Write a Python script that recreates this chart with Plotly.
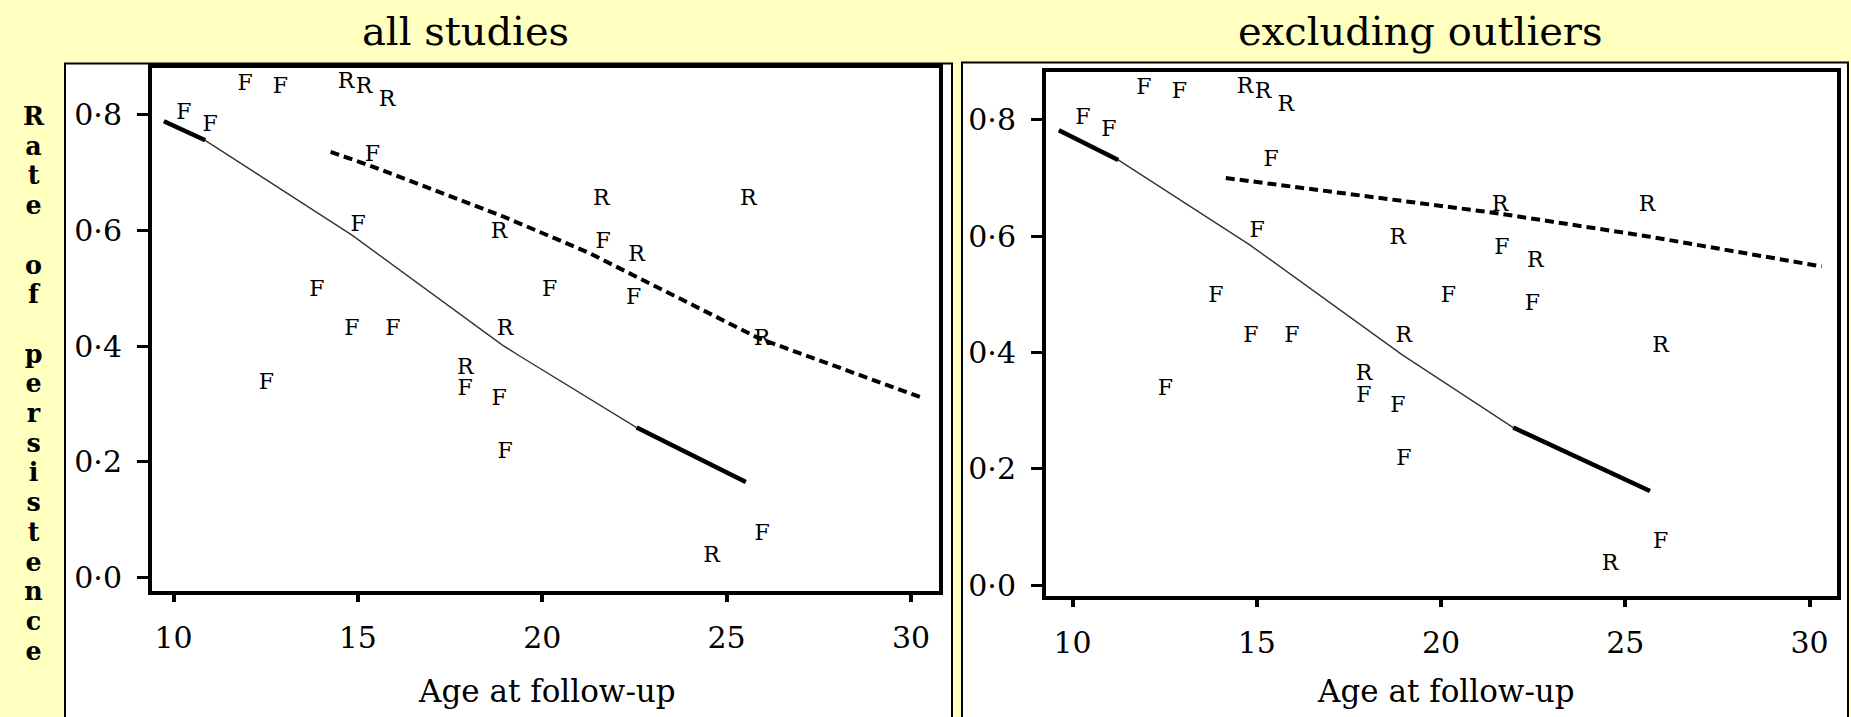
import plotly.graph_objects as go

# ---------------- data ----------------
f_age = [10.28, 10.99, 11.94, 12.90, 15.39, 15.01, 13.89, 14.84, 15.95, 12.52,
         17.91, 18.83, 18.99, 20.20, 21.65, 22.48, 25.96]
f_rate = [0.802, 0.782, 0.853, 0.847, 0.730, 0.608, 0.496, 0.428, 0.428, 0.336,
          0.325, 0.308, 0.216, 0.496, 0.579, 0.482, 0.074]
r_age = [14.68, 15.17, 15.79, 18.83, 18.99, 17.91, 21.60, 22.56, 25.59, 25.96, 24.59, 30.87]
r_rate = [0.856, 0.847, 0.824, 0.596, 0.428, 0.362, 0.653, 0.556, 0.653, 0.411, 0.036, 0.496]

# fitted curves, all studies
fitF_all_age = [9.74, 10.86, 14.84, 18.91, 19.41, 22.56, 25.52]
fitF_all_rate = [0.789, 0.756, 0.592, 0.402, 0.382, 0.259, 0.165]
fitR_all_age = [14.26, 15.42, 18.91, 21.24, 25.89, 30.28]
fitR_all_rate = [0.736, 0.710, 0.625, 0.562, 0.413, 0.311]

# fitted curves, excluding outliers
fitF_ex_age = [9.63, 11.24, 14.79, 18.95, 21.96, 25.67]
fitF_ex_rate = [0.782, 0.731, 0.586, 0.396, 0.271, 0.162]
fitR_ex_age = [14.16, 21.46, 25.58, 30.33]
fitR_ex_rate = [0.700, 0.640, 0.600, 0.548]

x_ticks = [10, 15, 20, 25, 30]
y_ticks = [0.0, 0.2, 0.4, 0.6, 0.8]
y_tick_text = ["0·0", "0·2", "0·4", "0·6", "0·8"]

panel_titles = ["all studies", "excluding outliers"]
x_title = "Age at follow-up"
y_title = "Rate of persistence"

# ---------------- layout helpers ----------------
W, H = 1851, 717
BG = "#FFFFC0"
SERIF = "DejaVu Serif"


def px(xp):
    return xp / W


def py(yp):
    return 1 - yp / H


fig = go.Figure()


def add_panel(xa, fitF_x, fitF_y, fitR_x, fitR_y, thick_end):
    xr = "x" if xa == 1 else f"x{xa}"
    yr = "y" if xa == 1 else f"y{xa}"
    # thin full solid curve
    fig.add_trace(go.Scatter(x=fitF_x, y=fitF_y, mode="lines", xaxis=xr, yaxis=yr,
                             line=dict(color="#333", width=1.4), showlegend=False,
                             hoverinfo="skip"))
    # thicker ends of the solid curve
    fig.add_trace(go.Scatter(x=fitF_x[:2], y=fitF_y[:2], mode="lines", xaxis=xr, yaxis=yr,
                             line=dict(color="black", width=4.5), showlegend=False,
                             hoverinfo="skip"))
    fig.add_trace(go.Scatter(x=fitF_x[thick_end:], y=fitF_y[thick_end:], mode="lines",
                             xaxis=xr, yaxis=yr,
                             line=dict(color="black", width=4.5), showlegend=False,
                             hoverinfo="skip"))
    # dashed curve
    fig.add_trace(go.Scatter(x=fitR_x, y=fitR_y, mode="lines", xaxis=xr, yaxis=yr,
                             line=dict(color="black", width=4, dash="9px,5px"),
                             showlegend=False, hoverinfo="skip"))
    # letters
    fig.add_trace(go.Scatter(x=f_age, y=f_rate, mode="text", text=["F"] * len(f_age),
                             xaxis=xr, yaxis=yr, cliponaxis=False,
                             textfont=dict(family=SERIF, size=22, color="black"),
                             showlegend=False))
    fig.add_trace(go.Scatter(x=r_age, y=r_rate, mode="text", text=["R"] * len(r_age),
                             xaxis=xr, yaxis=yr, cliponaxis=False,
                             textfont=dict(family=SERIF, size=22, color="black"),
                             showlegend=False))


add_panel(1, fitF_all_age, fitF_all_rate, fitR_all_age, fitR_all_rate, 5)
add_panel(2, fitF_ex_age, fitF_ex_rate, fitR_ex_age, fitR_ex_rate, 4)

axis_common = dict(showgrid=False, zeroline=False, showline=True, mirror=True,
                   linecolor="black", linewidth=4, ticks="outside", tickcolor="black",
                   tickfont=dict(family=SERIF, size=30, color="black"))

xcommon = dict(axis_common, tickvals=x_ticks, ticklen=7, tickwidth=4,
               ticklabelstandoff=10)
ycommon = dict(axis_common, tickvals=y_ticks, ticktext=y_tick_text, ticklen=11,
               tickwidth=3, ticklabelstandoff=9)

fig.update_layout(
    width=W, height=H, autosize=False,
    margin=dict(l=0, r=0, t=0, b=0),
    paper_bgcolor=BG, plot_bgcolor="white",
    xaxis=dict(xcommon, domain=[px(152), px(939)], range=[9.417, 30.759], anchor="y"),
    yaxis=dict(ycommon, domain=[py(597), py(69)], range=[-0.024, 0.8805], anchor="x"),
    xaxis2=dict(xcommon, domain=[px(1046), px(1837)], range=[9.281, 30.746], anchor="y2"),
    yaxis2=dict(ycommon, domain=[py(602), py(73)], range=[-0.0187, 0.8817], anchor="x2"),
)

# white panel boxes
shapes = []
for x0, x1, y0 in [(65, 952, 64), (962, 1848, 63)]:
    shapes.append(dict(type="rect", xref="paper", yref="paper",
                       x0=px(x0), x1=px(x1), y0=py(y0), y1=py(H + 20),
                       fillcolor="white", line=dict(color="black", width=2),
                       layer="below"))
fig.update_layout(shapes=shapes)

annotations = []
# panel titles
for t, cx in zip(panel_titles, [465, 1420]):
    annotations.append(dict(text=t, x=px(cx), y=py(31), xref="paper", yref="paper",
                            xanchor="center", yanchor="middle", showarrow=False,
                            font=dict(family=SERIF, size=40, color="black")))
# x axis titles
for cx in [547, 1446]:
    annotations.append(dict(text=x_title, x=px(cx), y=py(698), xref="paper", yref="paper",
                            xanchor="center", yanchor="middle", showarrow=False,
                            font=dict(family=SERIF, size=31, color="black")))

# stacked vertical y title: one text, one letter per line, tight line spacing
LINE = 29.7          # px between stacked letters
LETTER = 25.4        # letter size, small enough that stacked letters do not collide
base_size = LINE / 1.3
lines = []
for ch in y_title:
    if ch == " ":
        lines.append("\u00a0")
    else:
        lines.append(f"<span style='font-size:{LETTER}px;font-weight:bold'>{ch}</span>")
stack_text = "<br>".join(lines)
n = len(y_title)
first_base = 129
last_base = first_base + LINE * (n - 1)
annotations.append(dict(text=stack_text, x=px(34), y=py((first_base + last_base) / 2 - 8.7),
                        xref="paper", yref="paper", xanchor="center", yanchor="middle",
                        align="center", showarrow=False,
                        font=dict(family=SERIF, size=base_size, color="black")))
fig.update_layout(annotations=annotations)

fig.write_html("out.html")
